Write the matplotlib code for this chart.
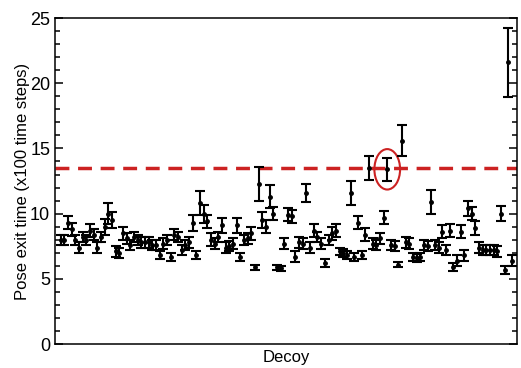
import matplotlib.pyplot as plt
from matplotlib.patches import Ellipse
from matplotlib.ticker import MultipleLocator

plt.rcParams['font.family'] = ['Liberation Sans', 'DejaVu Sans']

# pose exit time per decoy (x100 time steps)
exit_time = [8.0, 8.0, 9.3, 8.8, 8.0, 7.4, 8.2, 8.0, 8.7, 8.4,
             7.4, 8.2, 9.0, 10.0, 9.5, 7.1, 7.0, 8.5, 8.1, 7.6,
             8.2, 8.0, 7.8, 7.8, 7.8, 7.6, 7.6, 6.8, 7.7, 8.0,
             6.7, 8.4, 8.2, 7.2, 7.6, 7.8, 9.3, 6.8, 10.8, 10.0,
             9.4, 8.0, 7.7, 8.2, 9.1, 7.4, 7.5, 7.7, 9.1, 6.7,
             8.0, 8.1, 8.5, 5.9, 12.3, 9.5, 9.0, 11.3, 10.0, 5.9,
             5.8, 7.7, 9.9, 9.8, 6.7, 7.8, 7.7, 11.6, 7.4, 8.7,
             8.2, 7.7, 6.2, 8.0, 8.5, 8.7, 7.1, 7.0, 6.8, 11.6,
             6.7, 9.3, 6.8, 8.4, 13.5, 7.7, 7.6, 8.1, 9.7, 13.4,
             7.6, 7.5, 6.1, 15.6, 7.8, 7.7, 6.7, 6.6, 6.7, 7.6,
             7.5, 10.9, 7.6, 7.4, 8.6, 7.2, 8.7, 5.9, 6.4, 8.6,
             6.8, 10.4, 10.0, 8.9, 7.4, 7.2, 7.2, 7.2, 7.2, 7.1,
             10.0, 5.7, 21.6, 6.4]
exit_err = [0.4, 0.4, 0.5, 0.5, 0.4, 0.4, 0.4, 0.4, 0.5, 0.4,
            0.4, 0.4, 0.6, 0.8, 0.6, 0.4, 0.4, 0.5, 0.4, 0.4,
            0.4, 0.4, 0.4, 0.4, 0.4, 0.4, 0.4, 0.3, 0.4, 0.4,
            0.3, 0.4, 0.4, 0.4, 0.4, 0.4, 0.6, 0.3, 0.9, 0.7,
            0.5, 0.5, 0.4, 0.4, 0.6, 0.4, 0.4, 0.4, 0.6, 0.3,
            0.4, 0.4, 0.5, 0.2, 1.3, 0.6, 0.5, 0.9, 0.5, 0.2,
            0.2, 0.4, 0.5, 0.5, 0.4, 0.4, 0.4, 0.7, 0.4, 0.5,
            0.4, 0.4, 0.3, 0.4, 0.5, 0.5, 0.3, 0.3, 0.3, 0.9,
            0.3, 0.5, 0.3, 0.5, 0.9, 0.4, 0.4, 0.4, 0.5, 0.9,
            0.4, 0.4, 0.2, 1.2, 0.4, 0.4, 0.3, 0.3, 0.3, 0.4,
            0.4, 0.9, 0.4, 0.4, 0.5, 0.4, 0.5, 0.3, 0.4, 0.5,
            0.4, 0.6, 0.5, 0.5, 0.4, 0.4, 0.4, 0.4, 0.4, 0.4,
            0.6, 0.3, 2.65, 0.4]
threshold = 13.5
circled = 89  # decoy index highlighted with the red ellipse

decoy = list(range(len(exit_time)))

fig = plt.figure(figsize=(5.21, 3.68), dpi=100)
ax = fig.add_axes([0.1056, 0.065, 0.8864, 0.886])

ax.errorbar(decoy, exit_time, yerr=exit_err, fmt='o', color='black',
            markersize=2.5, elinewidth=1.5, capsize=3.5, capthick=1.5)
ax.axhline(threshold, color='#cc2222', lw=2.5, dashes=(4, 2.5), zorder=0)
ax.add_patch(Ellipse((decoy[circled], exit_time[circled]), width=7.0, height=3.1,
                     fill=False, edgecolor='#cc2222', lw=1.5))

ax.set_xlim(-1.5, len(exit_time) + 0.3)
ax.set_ylim(0, 25)
ax.yaxis.set_major_locator(MultipleLocator(5))
ax.yaxis.set_minor_locator(MultipleLocator(1))
ax.set_xticks([])
ax.tick_params(axis='y', which='both', direction='in', right=True, width=1.1)
ax.tick_params(axis='y', which='major', length=6, labelsize=13)
ax.tick_params(axis='y', which='minor', length=3.5)
for s in ax.spines.values():
    s.set_linewidth(1.1)

ax.set_ylabel('Pose exit time (x100 time steps)', fontsize=12, labelpad=0)
ax.set_xlabel('Decoy', fontsize=12, labelpad=4)

fig.savefig('out.png', dpi=100)
plt.close(fig)
